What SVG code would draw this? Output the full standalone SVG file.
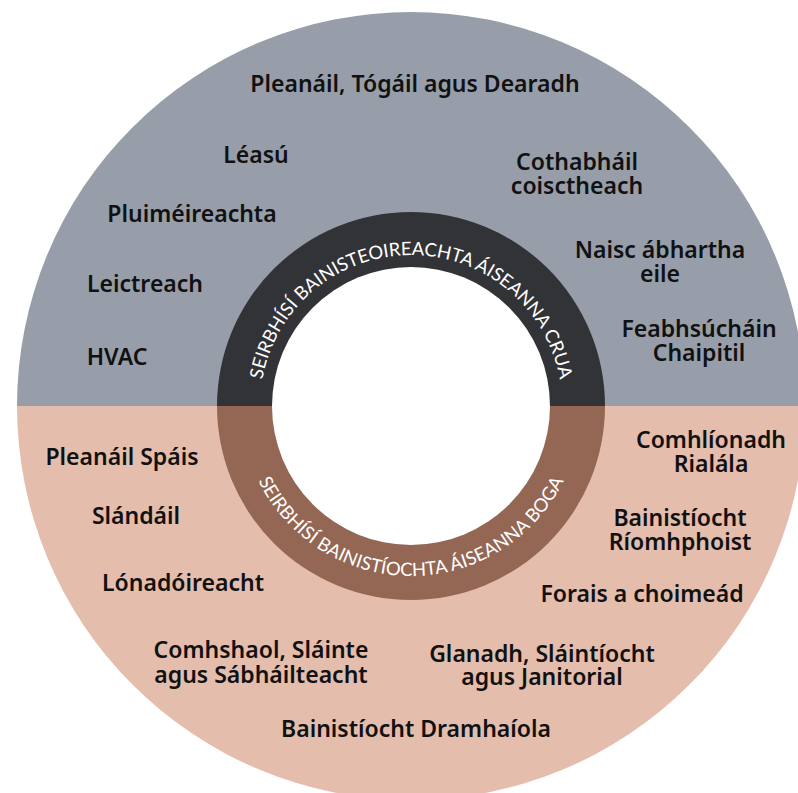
<svg xmlns="http://www.w3.org/2000/svg" width="798" height="793" viewBox="0 0 798 793">
  <defs>
    <clipPath id="topHalf"><rect x="0" y="0" width="798" height="406"/></clipPath>
    <clipPath id="bottomHalf"><rect x="0" y="406" width="798" height="387"/></clipPath>
    <path id="arcTop" d="M 260,406 A 151 151 0 0 1 562,406"/>
    <path id="arcBottom" d="M 241,406 A 170 170 0 0 0 581,406"/>
  </defs>
  <style>
    .lbl { font-family: "Noto Sans", Lato, "Liberation Sans", sans-serif; font-weight: 600; font-size: 23px; fill: #111111; text-anchor: middle; }
    .ring { font-family: Lato, "Noto Sans", "Liberation Sans", sans-serif; font-weight: 400; font-size: 18.5px; fill: #ffffff; }
  </style>
  <rect width="798" height="793" fill="#ffffff"/>
  <g id="outer-disc">
    <circle cx="411" cy="406" r="394" fill="#979ea9" clip-path="url(#topHalf)"/>
    <circle cx="411" cy="406" r="394" fill="#e4bdac" clip-path="url(#bottomHalf)"/>
  </g>
  <g id="inner-ring">
    <circle cx="411" cy="406" r="194" fill="#323337" clip-path="url(#topHalf)"/>
    <circle cx="411" cy="406" r="194" fill="#946654" clip-path="url(#bottomHalf)"/>
    <circle cx="411" cy="406" r="139" fill="#ffffff"/>
    <text class="ring"><textPath href="#arcTop" startOffset="50%" text-anchor="middle">SEIRBHÍSÍ BAINISTEOIREACHTA ÁISEANNA CRUA</textPath></text>
    <text class="ring"><textPath href="#arcBottom" startOffset="50%" text-anchor="middle">SEIRBHÍSÍ BAINISTÍOCHTA ÁISEANNA BOGA</textPath></text>
  </g>
  <g id="hard-services">
    <g id="n-pleanail-togail"><text class="lbl" x="415" y="92">Pleanáil, Tógáil agus Dearadh</text></g>
    <g id="n-leasu"><text class="lbl" x="256" y="163">Léasú</text></g>
    <g id="n-pluimeireachta"><text class="lbl" x="192" y="222">Pluiméireachta</text></g>
    <g id="n-leictreach"><text class="lbl" x="145" y="292">Leictreach</text></g>
    <g id="n-hvac"><text class="lbl" x="117" y="365">HVAC</text></g>
    <g id="n-cothabhail"><text class="lbl" x="577" y="170">Cothabháil</text><text class="lbl" x="577" y="194">coisctheach</text></g>
    <g id="n-naisc"><text class="lbl" x="660" y="258">Naisc ábhartha</text><text class="lbl" x="660" y="282">eile</text></g>
    <g id="n-feabhsuchain"><text class="lbl" x="699" y="337">Feabhsúcháin</text><text class="lbl" x="699" y="361">Chaipitil</text></g>
  </g>
  <g id="soft-services">
    <g id="n-pleanail-spais"><text class="lbl" x="122" y="465">Pleanáil Spáis</text></g>
    <g id="n-slandail"><text class="lbl" x="136" y="524">Slándáil</text></g>
    <g id="n-lonadoireacht"><text class="lbl" x="183" y="591">Lónadóireacht</text></g>
    <g id="n-comhshaol"><text class="lbl" x="261" y="658">Comhshaol, Sláinte</text><text class="lbl" x="261" y="683">agus Sábháilteacht</text></g>
    <g id="n-dramhaiola"><text class="lbl" x="416" y="737">Bainistíocht Dramhaíola</text></g>
    <g id="n-comhlionadh"><text class="lbl" x="711" y="448">Comhlíonadh</text><text class="lbl" x="711" y="472">Rialála</text></g>
    <g id="n-riomhphoist"><text class="lbl" x="680" y="526">Bainistíocht</text><text class="lbl" x="680" y="550">Ríomhphoist</text></g>
    <g id="n-forais"><text class="lbl" x="642" y="602">Forais a choimeád</text></g>
    <g id="n-glanadh"><text class="lbl" x="542" y="662">Glanadh, Sláintíocht</text><text class="lbl" x="542" y="685">agus Janitorial</text></g>
  </g>
</svg>
